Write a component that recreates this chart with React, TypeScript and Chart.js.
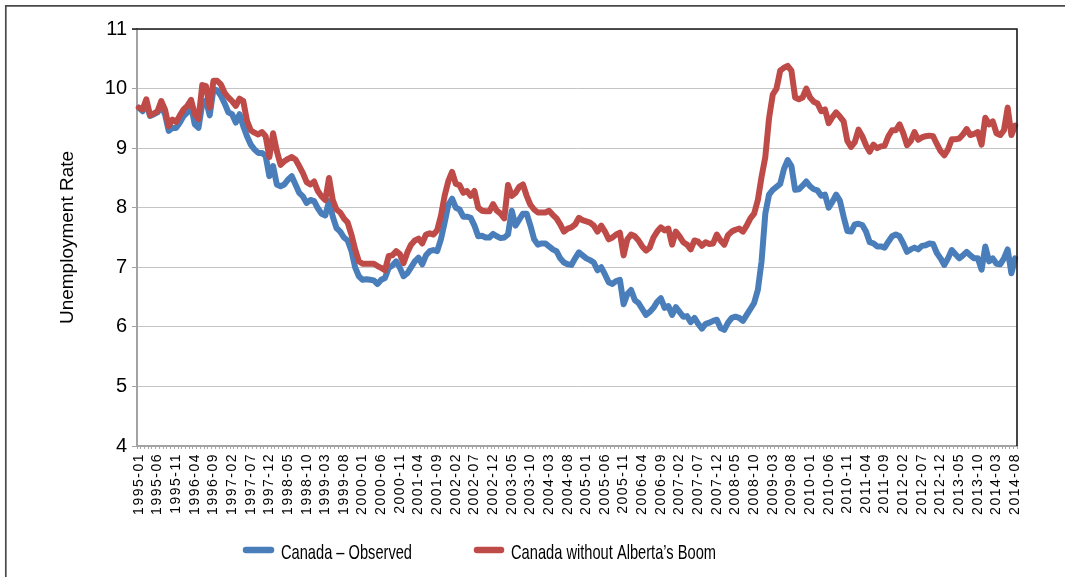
import React, { useEffect, useRef } from 'react';
import { Chart, registerables } from 'chart.js';

Chart.register(...registerables);

// Monthly categories 1995-01 .. 2014-08
const categories: string[] = [];
for (let y = 1995; y <= 2014; y++) {
  for (let m = 1; m <= 12; m++) {
    if (y === 2014 && m > 8) break;
    categories.push(`${y}-${String(m).padStart(2, '0')}`);
  }
}
const tickEvery = 5;

const observedLabel = 'Canada – Observed';
const withoutBoomLabel = 'Canada without Alberta’s Boom';

const observed: number[] = [
  9.68, 9.62, 9.76, 9.54, 9.57, 9.60, 9.71, 9.57, 9.29, 9.34,
  9.34, 9.43, 9.54, 9.60, 9.71, 9.40, 9.34, 9.75, 9.80, 9.55,
  9.99, 9.97, 9.88, 9.75, 9.60, 9.57, 9.43, 9.57, 9.37, 9.20,
  9.06, 8.98, 8.92, 8.92, 8.87, 8.53, 8.70, 8.39, 8.36, 8.39,
  8.47, 8.53, 8.39, 8.25, 8.19, 8.08, 8.13, 8.11, 7.99, 7.90,
  7.87, 8.11, 7.85, 7.66, 7.60, 7.50, 7.45, 7.28, 7.00, 6.85,
  6.79, 6.80, 6.79, 6.78, 6.72, 6.79, 6.82, 6.99, 7.03, 7.10,
  6.99, 6.85, 6.90, 7.00, 7.10, 7.16, 7.05, 7.20, 7.27, 7.29,
  7.27, 7.47, 7.75, 8.05, 8.15, 8.00, 7.97, 7.85, 7.85, 7.83,
  7.70, 7.52, 7.53, 7.50, 7.50, 7.56, 7.52, 7.49, 7.50, 7.55,
  7.95, 7.70, 7.80, 7.90, 7.90, 7.70, 7.47, 7.38, 7.40, 7.40,
  7.35, 7.30, 7.27, 7.15, 7.08, 7.05, 7.04, 7.15, 7.25, 7.20,
  7.15, 7.12, 7.08, 6.95, 7.00, 6.88, 6.75, 6.72, 6.77, 6.79,
  6.38, 6.55, 6.62, 6.45, 6.40, 6.30, 6.20, 6.25, 6.32, 6.42,
  6.48, 6.32, 6.35, 6.20, 6.33, 6.25, 6.17, 6.18, 6.08, 6.15,
  6.05, 5.97, 6.05, 6.07, 6.10, 6.12, 5.98, 5.95, 6.07, 6.15,
  6.17, 6.15, 6.10, 6.20, 6.30, 6.40, 6.62, 7.10, 7.90, 8.22,
  8.30, 8.35, 8.40, 8.65, 8.80, 8.70, 8.30, 8.31, 8.37, 8.44,
  8.36, 8.31, 8.29, 8.20, 8.22, 8.00, 8.10, 8.22, 8.12, 7.85,
  7.61, 7.60, 7.72, 7.73, 7.71, 7.60, 7.42, 7.40, 7.35, 7.35,
  7.33, 7.43, 7.52, 7.55, 7.52, 7.40, 7.26, 7.30, 7.33, 7.30,
  7.36, 7.37, 7.40, 7.39, 7.24, 7.15, 7.04, 7.15, 7.29, 7.22,
  7.15, 7.20, 7.26, 7.20, 7.15, 7.15, 6.96, 7.35, 7.10, 7.15,
  7.06, 7.05, 7.15, 7.30, 6.90, 7.15,
];

const withoutBoom: number[] = [
  9.68, 9.65, 9.82, 9.55, 9.58, 9.62, 9.79, 9.65, 9.37, 9.48,
  9.44, 9.55, 9.65, 9.71, 9.81, 9.57, 9.49, 10.06, 10.04, 9.68,
  10.13, 10.13, 10.07, 9.93, 9.85, 9.79, 9.71, 9.83, 9.79, 9.46,
  9.30, 9.26, 9.23, 9.27, 9.20, 8.85, 9.25, 8.95, 8.72, 8.78,
  8.82, 8.85, 8.81, 8.70, 8.58, 8.43, 8.39, 8.44, 8.28, 8.19,
  8.13, 8.50, 8.13, 7.97, 7.92, 7.82, 7.75, 7.55, 7.30, 7.10,
  7.06, 7.06, 7.06, 7.06, 7.02, 6.99, 6.95, 7.19, 7.20, 7.27,
  7.22, 7.07, 7.25, 7.38, 7.45, 7.48, 7.40, 7.55, 7.57, 7.55,
  7.62, 7.86, 8.20, 8.45, 8.60, 8.40, 8.38, 8.25, 8.28, 8.20,
  8.28, 8.00, 7.95, 7.94, 7.94, 8.06, 7.95, 7.90, 7.82, 8.38,
  8.20, 8.25, 8.35, 8.39, 8.20, 8.05, 7.97, 7.92, 7.92, 7.92,
  7.95, 7.88, 7.82, 7.72, 7.60, 7.65, 7.67, 7.72, 7.83, 7.79,
  7.77, 7.75, 7.70, 7.60, 7.70, 7.60, 7.47, 7.50, 7.55, 7.58,
  7.20, 7.47, 7.55, 7.52, 7.45, 7.35, 7.28, 7.33, 7.50, 7.60,
  7.67, 7.62, 7.65, 7.38, 7.60, 7.52, 7.42, 7.38, 7.30, 7.45,
  7.43, 7.36, 7.42, 7.39, 7.40, 7.55, 7.45, 7.38, 7.54, 7.60,
  7.63, 7.65, 7.60, 7.70, 7.82, 7.90, 8.13, 8.52, 8.85, 9.50,
  9.90, 10.00, 10.30, 10.35, 10.38, 10.30, 9.85, 9.82, 9.85, 10.00,
  9.85, 9.78, 9.75, 9.62, 9.65, 9.42, 9.52, 9.60, 9.53, 9.45,
  9.12, 9.02, 9.10, 9.31, 9.20, 9.05, 8.94, 9.06, 9.00, 9.03,
  9.04, 9.20, 9.30, 9.30, 9.40, 9.25, 9.05, 9.12, 9.27, 9.14,
  9.18, 9.20, 9.21, 9.20, 9.07, 8.95, 8.88, 8.98, 9.15, 9.15,
  9.16, 9.23, 9.32, 9.22, 9.24, 9.27, 9.06, 9.51, 9.40, 9.45,
  9.25, 9.22, 9.30, 9.68, 9.22, 9.38,
];

const yMin = 4;
const yMax = 11;
const yStep = 1;
const yTitle = 'Unemployment Rate';

const BLUE = '#4a7ebb';
const RED = '#be4b48';
const FONT = '"Liberation Sans", Arial, Helvetica, sans-serif';

const framePlugin = {
  id: 'frame',
  beforeDraw(chart: any) {
    const { ctx, width, height } = chart;
    ctx.save();
    ctx.fillStyle = '#fff';
    ctx.fillRect(0, 0, width, height);
    ctx.strokeStyle = '#4a4a4a';
    ctx.lineWidth = 1.7;
    ctx.beginPath();
    ctx.moveTo(5.8, height + 5);
    ctx.lineTo(5.8, 5.8);
    ctx.lineTo(width + 5, 5.8);
    ctx.stroke();
    ctx.restore();
  },
  afterDraw(chart: any) {
    const { ctx, chartArea } = chart;
    const { left, right, top, bottom } = chartArea;
    ctx.save();
    ctx.strokeStyle = '#1a1a1a';
    ctx.lineWidth = 1.6;
    ctx.beginPath();
    ctx.moveTo(left - 5, top);
    ctx.lineTo(right, top);
    ctx.lineTo(right, bottom);
    ctx.stroke();

    // legend
    const items = [
      { ds: chart.data.datasets[1], x0: 246, x1: 271, tx: 281, tw: 131 },
      { ds: chart.data.datasets[0], x0: 477, x1: 501, tx: 511, tw: 205 },
    ];
    ctx.lineCap = 'round';
    ctx.lineWidth = 6.5;
    ctx.font = `21px ${FONT}`;
    ctx.textBaseline = 'alphabetic';
    ctx.textAlign = 'left';
    for (const it of items) {
      ctx.strokeStyle = it.ds.borderColor;
      ctx.beginPath();
      ctx.moveTo(it.x0, 550);
      ctx.lineTo(it.x1, 550);
      ctx.stroke();
      ctx.fillStyle = '#000';
      ctx.fillText(it.ds.label, it.tx, 559, it.tw);
    }
    ctx.restore();
  },
};

export default function App() {
  const ref = useRef<HTMLCanvasElement | null>(null);

  useEffect(() => {
    if (!ref.current) return;
    const chart = new Chart(ref.current, {
      type: 'line',
      data: {
        labels: categories,
        datasets: [
          {
            label: withoutBoomLabel,
            data: withoutBoom,
            borderColor: RED,
            backgroundColor: RED,
            borderWidth: 6,
            pointRadius: 0,
            borderJoinStyle: 'round',
            borderCapStyle: 'round',
            tension: 0,
            order: 0,
          },
          {
            label: observedLabel,
            data: observed,
            borderColor: BLUE,
            backgroundColor: BLUE,
            borderWidth: 6,
            pointRadius: 0,
            borderJoinStyle: 'round',
            borderCapStyle: 'round',
            tension: 0,
            order: 1,
          },
        ],
      },
      options: {
        responsive: false,
        animation: false,
        devicePixelRatio: 1,
        layout: { padding: { left: 0, top: 29, right: 48, bottom: 0 } },
        plugins: {
          legend: { display: false },
          tooltip: { enabled: false },
        },
        scales: {
          x: {
            type: 'category',
            offset: true,
            grid: {
              display: true,
              drawOnChartArea: false,
              drawTicks: true,
              tickLength: 3,
              color: '#a8a8a8',
              offset: true,
            },
            border: { display: true, color: '#a3a3a3', width: 2 },
            ticks: {
              autoSkip: false,
              minRotation: 90,
              maxRotation: 90,
              padding: 4,
              color: '#000',
              font: { family: FONT, size: 14 },
              callback: (_v: any, i: number) => (i % tickEvery === 0 ? categories[i] : ''),
            },
            afterFit: (s: any) => {
              s.height = 131;
            },
          },
          y: {
            min: yMin,
            max: yMax,
            ticks: {
              stepSize: yStep,
              padding: 5,
              color: '#000',
              font: { family: FONT, size: 20 },
            },
            grid: {
              color: '#c4c4c4',
              lineWidth: 1,
              tickLength: 5,
              tickColor: '#a3a3a3',
            },
            border: { display: true, color: '#a3a3a3', width: 2 },
            title: {
              display: true,
              text: yTitle,
              color: '#000',
              font: { family: FONT, size: 19 },
              padding: { top: 56, bottom: 0 },
            },
            afterFit: (s: any) => {
              s.width = 137;
            },
          },
        },
      },
      plugins: [framePlugin],
    });

    // widen the spacing of the rotated month labels, as in the reference
    const xs: any = chart.scales.x;
    const origDrawLabels = xs.drawLabels.bind(xs);
    xs.drawLabels = (area: any) => {
      const c: any = xs.ctx;
      c.save();
      c.letterSpacing = '1.5px';
      origDrawLabels(area);
      c.restore();
    };
    chart.draw();

    return () => chart.destroy();
  }, []);

  return (
    <div style={{ position: 'absolute', left: 0, top: 0, width: 1065, height: 577, overflow: 'hidden', background: '#fff' }}>
      <canvas ref={ref} width={1065} height={577} style={{ display: 'block', width: 1065, height: 577 }} />
    </div>
  );
}
